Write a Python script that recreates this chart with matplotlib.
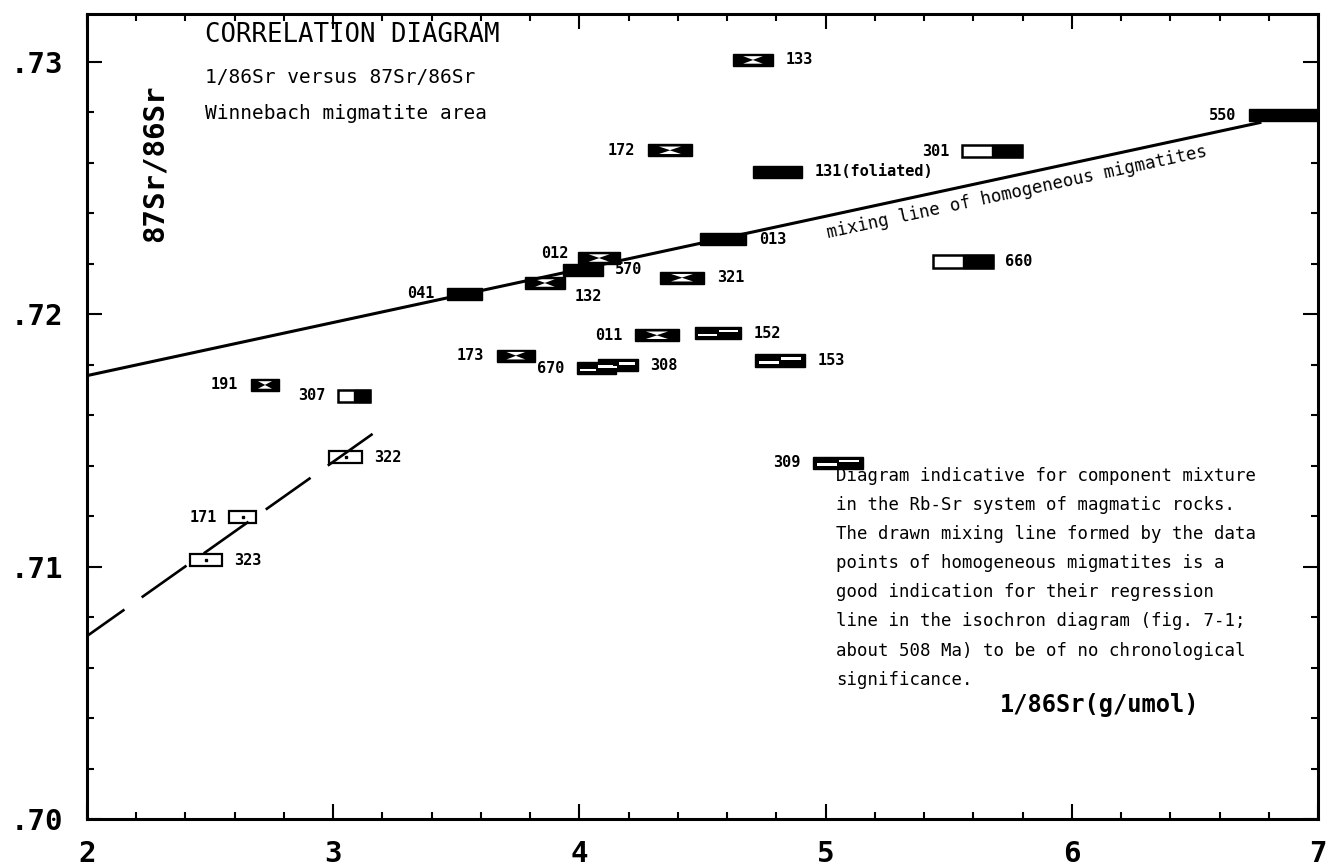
import matplotlib
matplotlib.use("Agg")
import matplotlib.pyplot as plt
from matplotlib.patches import Rectangle, Polygon
from matplotlib.ticker import MultipleLocator, FuncFormatter
import numpy as np

# ---------------- data ----------------
samples = ["133", "172", "131", "301", "550", "012", "570", "132", "041", "013",
           "321", "660", "011", "152", "173", "670", "308", "153", "191", "307",
           "322", "171", "323", "309"]
inv_sr86 = [4.705, 4.368, 4.805, 5.676, 6.86, 4.08, 4.015, 3.86, 3.533, 4.583,
            4.417, 5.558, 4.315, 4.563, 3.742, 4.07, 4.157, 4.815, 2.723, 3.085,
            3.05, 2.632, 2.483, 5.05]
sr87_86 = [0.73008, 0.72650, 0.72564, 0.72646, 0.72789, 0.72223, 0.72177, 0.72124,
           0.72082, 0.72298, 0.72145, 0.72209, 0.71917, 0.71925, 0.71836, 0.71786,
           0.71798, 0.71817, 0.71720, 0.71677, 0.71434, 0.71196, 0.71025, 0.71412]
x_unc = [0.08, 0.09, 0.10, 0.12, 0.14, 0.085, 0.08, 0.08, 0.072, 0.095,
         0.09, 0.12, 0.09, 0.095, 0.077, 0.08, 0.08, 0.10, 0.057, 0.065,
         0.067, 0.055, 0.065, 0.10]
symbol = ["hourglass", "hourglass", "solid", "half", "solid", "hourglass", "solid",
          "hourglass", "solid", "solid", "hourglass", "half", "hourglass", "bars",
          "hourglass", "bars", "bars", "bars", "hourglass", "half", "open", "open",
          "open", "bars"]
label_text = {"131": "131(foliated)"}

mix_x = [2.0, 6.77]
mix_y = [0.71757, 0.72761]
dash_x = [3.16, 2.0]
dash_y = [0.71526, 0.70725]

xticks_major = [2, 3, 4, 5, 6, 7]
yticks_major = [0.70, 0.71, 0.72, 0.73]

title_lines = ["CORRELATION DIAGRAM", "1/86Sr versus 87Sr/86Sr",
               "Winnebach migmatite area"]
note_lines = ["Diagram indicative for component mixture",
              "in the Rb-Sr system of magmatic rocks.",
              "The drawn mixing line formed by the data",
              "points of homogeneous migmatites is a",
              "good indication for their regression",
              "line in the isochron diagram (fig. 7-1;",
              "about 508 Ma) to be of no chronological",
              "significance."]

# ---------------- layout / style ----------------
label_side = {"133": "R", "172": "L", "131": "R", "301": "L", "550": "L",
              "012": "LU", "570": "R", "132": "BR", "041": "L", "013": "R",
              "321": "R", "660": "R", "011": "L", "152": "R", "173": "L",
              "670": "L", "308": "R", "153": "R", "191": "L", "307": "L",
              "322": "R", "171": "L", "323": "R", "309": "L"}
HH = 0.00024  # half height of the sample boxes

mono = "DejaVu Sans Mono"

fig = plt.figure(figsize=(13.36, 8.68), dpi=100)
ax = fig.add_axes([87 / 1336, 49 / 868, 1231 / 1336, 805 / 868])
ax.set_xlim(2, 7)
ax.set_ylim(0.70, 0.7319)

for s in ax.spines.values():
    s.set_linewidth(2.2)
ax.xaxis.set_major_locator(MultipleLocator(1))
ax.xaxis.set_minor_locator(MultipleLocator(0.2))
ax.yaxis.set_major_locator(MultipleLocator(0.01))
ax.yaxis.set_minor_locator(MultipleLocator(0.002))
ax.set_xticks(xticks_major)
ax.set_yticks(yticks_major)
ax.yaxis.set_major_formatter(FuncFormatter(lambda v, _: f"{v:.2f}"[1:]))
ax.xaxis.set_major_formatter(FuncFormatter(lambda v, _: f"{v:.0f}"))
ax.tick_params(which="both", direction="in", top=True, right=True, width=1.5)
ax.tick_params(which="major", length=10.5)
ax.tick_params(which="minor", length=5)
ax.tick_params(axis="y", which="major", pad=17)
ax.tick_params(axis="x", which="major", pad=15)
for lab in ax.get_xticklabels() + ax.get_yticklabels():
    lab.set_fontfamily(mono)
    lab.set_fontweight("bold")
    lab.set_fontsize(21)

# lines
ax.plot(mix_x, mix_y, color="black", lw=2.2, zorder=4, solid_capstyle="butt")
dl, = ax.plot(dash_x, dash_y, color="black", lw=1.9, zorder=4, dash_capstyle="butt")
dl.set_dashes((20.8, 8.0))


def draw_box(x, y, hw, style):
    z = 3
    if style in ("solid", "hourglass", "bars"):
        ax.add_patch(Rectangle((x - hw, y - HH), 2 * hw, 2 * HH, fc="black",
                               ec="black", lw=1, zorder=z))
        if style == "hourglass":
            ax.add_patch(Polygon([(x - 0.5 * hw, y + 0.62 * HH), (x + 0.5 * hw, y + 0.62 * HH),
                                  (x, y + 0.02 * HH)], closed=True, fc="white", ec="none", zorder=z + 0.1))
            ax.add_patch(Polygon([(x - 0.5 * hw, y - 0.62 * HH), (x + 0.5 * hw, y - 0.62 * HH),
                                  (x, y - 0.02 * HH)], closed=True, fc="white", ec="none", zorder=z + 0.1))
        elif style == "bars":
            ax.add_patch(Rectangle((x - 0.85 * hw, y - 0.5 * HH), 0.8 * hw, 0.38 * HH,
                                   fc="white", ec="none", zorder=z + 0.1))
            ax.add_patch(Rectangle((x + 0.05 * hw, y + 0.12 * HH), 0.8 * hw, 0.38 * HH,
                                   fc="white", ec="none", zorder=z + 0.1))
    elif style == "half":
        ax.add_patch(Rectangle((x - hw, y - HH), 2 * hw, 2 * HH, fc="white",
                               ec="black", lw=1.8, zorder=z))
        ax.add_patch(Rectangle((x, y - HH), hw, 2 * HH, fc="black",
                               ec="black", lw=1, zorder=z + 0.1))
    elif style == "open":
        ax.add_patch(Rectangle((x - hw, y - HH), 2 * hw, 2 * HH, fc="white",
                               ec="black", lw=1.6, zorder=z))
        ax.plot([x], [y], marker="s", ms=1.5, color="black", zorder=z + 0.1)


for name, x, y, hw, st in zip(samples, inv_sr86, sr87_86, x_unc, symbol):
    draw_box(x, y, hw, st)
    side = label_side[name]
    txt = label_text.get(name, name)
    kw = dict(textcoords="offset points", va="center", fontsize=11, family=mono,
              fontweight="bold")
    if side == "R":
        ax.annotate(txt, (x + hw, y), xytext=(9, 0), ha="left", **kw)
    elif side == "L":
        ax.annotate(txt, (x - hw, y), xytext=(-9, 0), ha="right", **kw)
    elif side == "LU":
        ax.annotate(txt, (x - hw, y), xytext=(-7, 3), ha="right", **kw)
    elif side == "BR":
        ax.annotate(txt, (x + hw, y), xytext=(7, -10), ha="left", **kw)

# mixing-line label, rotated along the line
fig.canvas.draw()
p1 = ax.transData.transform((mix_x[0], mix_y[0]))
p2 = ax.transData.transform((mix_x[1], mix_y[1]))
ang = np.degrees(np.arctan2(p2[1] - p1[1], p2[0] - p1[0]))
tx = 4.98
ty = mix_y[0] + (mix_y[1] - mix_y[0]) * (tx - mix_x[0]) / (mix_x[1] - mix_x[0])
ax.annotate("mixing line of homogeneous migmatites", (tx, ty), xytext=(3, -5),
            textcoords="offset points", rotation=ang, rotation_mode="anchor",
            ha="left", va="top", fontsize=12.5, family=mono)

# title block
ax.text(0.0959, 0.974, title_lines[0], transform=ax.transAxes, fontsize=18.5,
        family=mono, va="center", ha="left")
ax.text(0.0959, 0.921, title_lines[1], transform=ax.transAxes, fontsize=14,
        family=mono, va="center", ha="left")
ax.text(0.0959, 0.877, title_lines[2], transform=ax.transAxes, fontsize=14,
        family=mono, va="center", ha="left")

# y label
ax.text(0.0552, 0.815, "87Sr/86Sr", transform=ax.transAxes, rotation=90,
        fontsize=21, fontweight="bold", family=mono, ha="center", va="center")

# note block
for i, line in enumerate(note_lines):
    ypx = 476 + 29.1 * i
    ax.text((836 - 87) / 1231, (819 - ypx) / 805, line, transform=ax.transAxes,
            fontsize=12.5, family=mono, ha="left", va="center")

# x label
ax.text((1000 - 87) / 1231, (819 - 705) / 805, "1/86Sr(g/umol)", transform=ax.transAxes,
        fontsize=17, family=mono, fontweight="bold", ha="left", va="center")

fig.savefig("out.png", dpi=100)
